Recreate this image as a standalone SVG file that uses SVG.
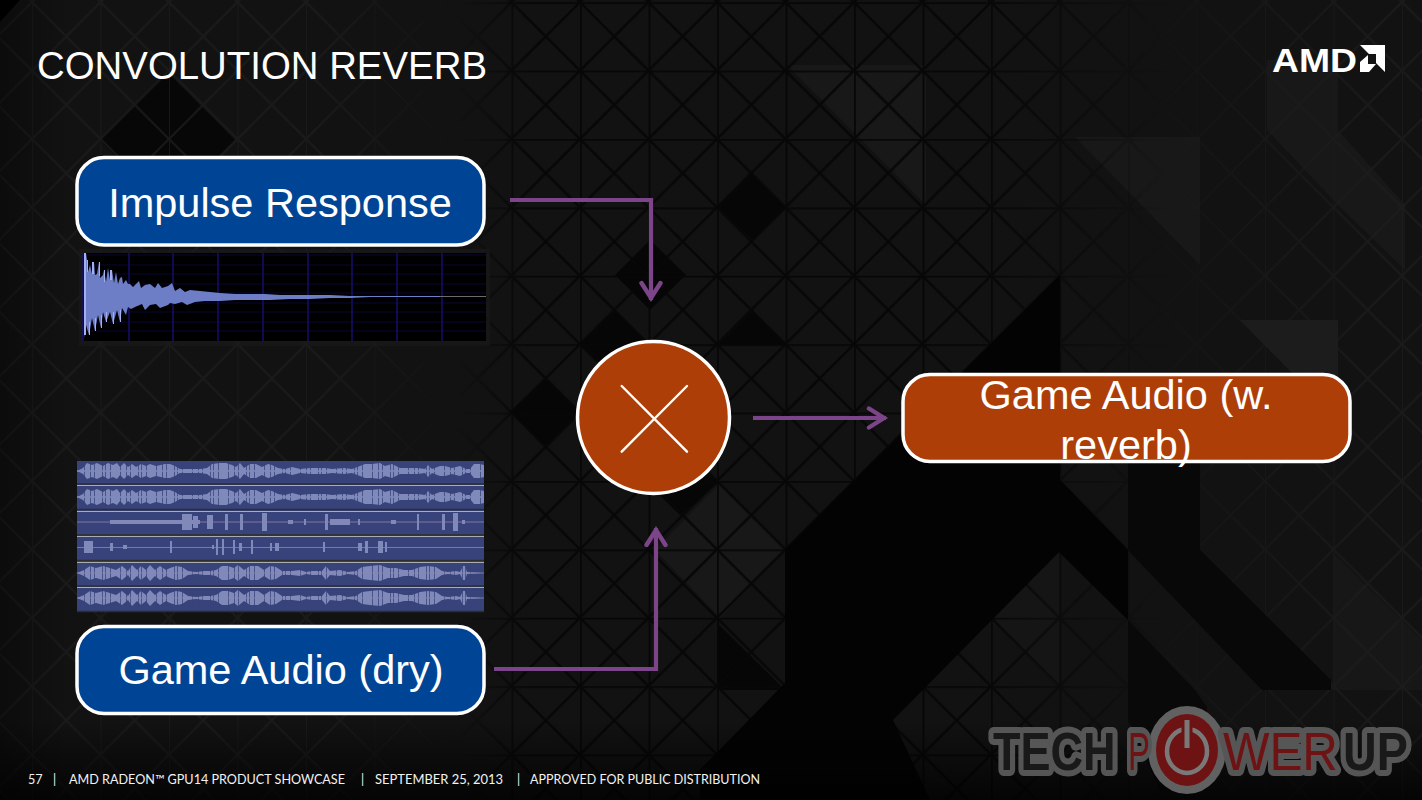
<svg xmlns="http://www.w3.org/2000/svg" xmlns:xlink="http://www.w3.org/1999/xlink" width="1422" height="800" viewBox="0 0 1422 800">
<style>
text{font-family:"Liberation Sans",Arial,sans-serif}
.box{stroke:#fff;stroke-width:3.5}
.blue{fill:#004595}
.orange{fill:#ae3e08}
.label{fill:#fff;font-size:41.500px;text-anchor:middle}
.conn{fill:none;stroke:#7d4589;stroke-width:4.200;marker-end:url(#chev)}
.foot{fill:#f2f2f2;font-family:Lato,"Open Sans",sans-serif;font-size:12.6px}
.dk{fill:#060606}
.lt{fill:#181818}
.wave{fill:#7f8aba}
.cut{fill:none;stroke:#37437a;stroke-width:20;opacity:.75}
.sep{stroke:#2f2f2f;stroke-width:1.6}
.sepl{stroke:#b8b8b8;stroke-width:.9}
.grid-v{stroke:#17106f;stroke-width:1.4}
.grid-h{stroke:#0b0840;stroke-width:.8}
.wm{stroke:#5a5a5a;stroke-width:12;stroke-linejoin:round;paint-order:stroke;font-size:53px}
</style>
<defs>
<marker id="chev" markerUnits="userSpaceOnUse" markerWidth="30" markerHeight="30" refX="20" refY="12" orient="auto">
<path d="M3 2.500L18 12L3 21.500" fill="none" stroke="#7d4589" stroke-width="4.400" stroke-linecap="round"/>
</marker>
<pattern id="cell" width="68.5" height="68.4" patternUnits="userSpaceOnUse" patternTransform="translate(580 139)">
<path d="M0 0V68.400M0 0H68.500" stroke-width="3.600" fill="none" stroke="#070707"/>
<path d="M0 0L68.500 68.400M68.500 0L0 68.400" stroke-width="2.400" fill="none" stroke="#070707"/>
</pattern>
<pattern id="cellLight" width="68.5" height="68.4" patternUnits="userSpaceOnUse" patternTransform="translate(580 139)">
<path d="M0 0V68.400" stroke-width="2" fill="none" stroke="#1d1d1d"/>
<path d="M0 0L68.500 68.400M68.500 0L0 68.400" stroke-width="2.200" fill="none" stroke="#1d1d1d"/>
</pattern>
<linearGradient id="midFade" gradientUnits="userSpaceOnUse" x1="0" y1="0" x2="1422" y2="0"><stop offset=".323" stop-color="#000"/><stop offset=".37" stop-color="#fff"/><stop offset=".69" stop-color="#fff"/><stop offset=".82" stop-color="#000"/></linearGradient>
<linearGradient id="sideFade" gradientUnits="userSpaceOnUse" x1="0" y1="0" x2="1422" y2="0"><stop offset="0" stop-color="#fff"/><stop offset=".22" stop-color="#fff"/><stop offset=".32" stop-color="#000"/><stop offset=".78" stop-color="#000"/><stop offset=".97" stop-color="#fff"/></linearGradient>
<mask id="midMask" maskUnits="userSpaceOnUse" x="0" y="0" width="1422" height="800"><rect width="1422" height="800" fill="url(#midFade)"/></mask>
<mask id="sideMask" maskUnits="userSpaceOnUse" x="0" y="0" width="1422" height="800"><rect width="1422" height="800" fill="url(#sideFade)"/></mask>
<linearGradient id="botFade" x1="0" y1="0" x2="0" y2="1"><stop offset="0" stop-color="#000" stop-opacity="0"/><stop offset="1" stop-color="#000" stop-opacity=".75"/></linearGradient>
<linearGradient id="leftFade"><stop offset="0" stop-color="#000" stop-opacity=".35"/><stop offset="1" stop-color="#000" stop-opacity="0"/></linearGradient>
<path id="w1" d="M77 0L83 3L87 8L92 6L97 8L103 5L108 8L113 6L117 8L120 4L124 8L128 4L132 7L136 4L141 7L146 5L150 7L156 5L165 7L170 7L175 5L180 2L190 2L200 2L207 3L212 7L220 8L226 8L232 6L236 4L240 8L244 3L250 7L256 7L262 4L268 7L272 6L278 3L285 2L292 4L300 2L310 3L325 3L332 2L344 3L352 2L360 5L365 7L372 7L380 8L385 5L392 7L400 3L410 3L418 3L425 2L428 6L432 2L440 5L445 5L452 3L460 5L466 2L470 2L474 7L480 7L484 6V0Z"/>
<path id="w5" d="M77 0L84 3L90 7L96 5L103 7L110 5L116 3L122 7L128 2L132 8L137 3L141 7L146 3L150 8L155 3L160 7L166 3L170 5L176 7L182 6L188 2L196 1L204 2L210 2L216 3L222 7L228 7L234 5L238 8L244 3L250 7L258 7L264 3L270 7L276 6L282 2L292 2L300 3L306 1L312 2L322 2L326 7L330 2L340 3L348 1L356 2L362 6L370 7L380 8L388 5L396 5L404 3L412 3L420 6L428 7L436 6L442 2L448 1L456 2L460 1L463 7L465 7L467 1L484 0Z"/>
<path id="sp3" d="M110 -2H200V2H110ZM182 -8H192V8H182ZM193 -6H198V6H193ZM207 -7H213V7H207ZM225 -8H228V8H225ZM240 -8H243V8H240ZM262 -9H267V9H262ZM288 -2H293V2H288ZM304 -3H306V3H304ZM325 -8H328V8H325ZM330 -3H350V3H330ZM358 -3H360V3H358ZM391 -2H396V2H391ZM417 -8H419V8H417ZM442 -8H445V8H442ZM453 -9H458V9H453ZM462 -2H465V2H462Z"/>
<path id="sp4" d="M84 -6H93V6H84ZM110 -4H113V4H110ZM123 -2H127V2H123ZM170 -6H172V6H170ZM212 -2H214V2H212ZM216 -8H218V8H216ZM222 -8H224V8H222ZM233 -7H235V7H233ZM239 -4H242V4H239ZM251 -7H253V7H251ZM270 -4H272V4H270ZM275 -4H279V4H275ZM323 -5H325V5H323ZM358 -4H362V4H358ZM365 -6H368V6H365ZM378 -6H383V6H378ZM385 -5H387V5H385Z"/>
</defs>

<g id="background">
<rect width="1422" height="800" fill="#121212"/>
<polygon class="lt" points="787,65 926,65 926,205"/>
<polygon class="lt" points="1075,137 1200,137 1200,265"/>
<polygon fill="#1c1c1c" points="1240,320 1338,320 1338,420"/>
<polygon class="lt" points="1267,60 1338,60 1338,130 1405,205 1405,270 1338,205 1267,130"/>
<polygon class="lt" points="720,483 785,550 720,618 655,550"/>
<polygon fill="#171717" points="1333,553 1422,640 1422,690 1333,690"/>
<polygon fill="#151515" points="1059,552 1059,688 990,620"/>
<polygon class="dk" points="752,173 786,207 752,240 718,207"/>
<polygon class="dk" points="752,311 786,345 718,345"/>
<polygon class="dk" points="615,310 650,345 615,378 580,345"/>
<polygon class="dk" points="545,378 580,412 545,446 510,412"/>
<polygon class="dk" points="647,483 680,450 718,483 680,515"/>
<polygon class="dk" points="650,240 686,275 650,310 615,275"/>
<polygon class="dk" points="717,623 785,690 717,690"/>
<polygon fill="#070707" points="167,72 235,140 167,208 99,140"/>
<g mask="url(#sideMask)" opacity=".8"><rect width="1422" height="800" fill="url(#cellLight)"/></g>
<g mask="url(#midMask)"><rect width="1422" height="800" fill="url(#cell)"/></g>
<polygon fill="#030303" points="1060,275 785,550 785,683 700,770 700,800 930,800 893,720 1059,552 1128,620 1128,550 1060,480"/>
<polygon fill="#080808" points="1128,463 1200,463 1200,550 1331,680 1331,690 1262,690 1128,550"/>
<polygon fill="#090909" points="1128,620 1195,690 1207,707 1207,790 1160,790 1128,720"/>
<polygon points="0,0 20,0 0,22" fill="#000"/>
<rect y="720" width="1422" height="80" fill="url(#botFade)"/>
<rect width="70" height="800" fill="url(#leftFade)"/>
</g>

<text id="title" x="37" y="79" fill="#fff" font-size="38" textLength="450" lengthAdjust="spacingAndGlyphs">CONVOLUTION REVERB</text>

<g id="amd-logo">
<text x="1272" y="72" fill="#fff" font-size="33" font-weight="700" textLength="85" lengthAdjust="spacingAndGlyphs">AMD</text>
<path fill="#fff" d="M1360 45H1385V72L1376 63V54H1369ZM1360 72V62L1368 55V64H1376L1369 72Z"/>
</g>

<g id="connectors">
<path class="conn" d="M510 200H651V300"/>
<path class="conn" d="M494 669H656V528"/>
<path class="conn" d="M753 418H886"/>
</g>

<g id="node-impulse-response">
<rect class="box blue" x="77" y="157.500" width="407" height="87.500" rx="27"/>
<text class="label" x="280" y="217">Impulse Response</text>
</g>

<g id="impulse-plot">
<rect x="79" y="249" width="411" height="97" fill="#1a1a1a" opacity=".6"/>
<rect x="83" y="253" width="403" height="88" fill="#000"/>
<path class="grid-h" d="M83 255H486M83 265H486M83 274H486M83 284H486M83 293H486M83 303H486M83 312H486M83 322H486M83 331H486"/>
<path class="grid-v" d="M83 253V341M129 253V341M173 253V341M218 253V341M263 253V341M308 253V341M352 253V341M397 253V341M442 253V341"/>
<path d="M440 296.500H486" stroke="#777" stroke-width=".9"/>
<path fill="#6d7dc6" d="M84 253L86 253L87 260L88 272L90 265L92 274L94 262L95 275L97 274L99 262L100 278L103 275L104 270L106 282L108 268L110 280L112 270L114 283L116 272L118 284L120 278L122 277L123 284L126 280L128 284L130 284L133 287L136 284L139 281L141 288L145 285L150 284L155 288L158 283L162 288L168 286L172 283L175 291L180 288L185 292L190 290L200 291L210 292L220 293L235 294L250 294L265 294L280 295L295 295L310 295L330 295L350 296L370 296L400 296L440 296V297L400 297L370 297L350 298L330 298L310 299L290 299L270 300L250 300L235 300L220 301L205 301L195 302L187 305L182 302L175 304L170 303L168 305L160 308L156 304L150 305L145 310L142 304L135 307L131 309L128 307L126 315L122 308L120 322L117 310L113 324L110 312L106 322L103 312L101 328L98 315L95 331L92 318L89 335L86 325L84 338Z"/>
<path fill="#a2b0f2" d="M84 253H86V335H84ZM87 260H88V272H87ZM92 262H94V274H92ZM99 262H100V276H99ZM104 270H105V282H104ZM110 270H112V280H110ZM89 322H90V335H89ZM95 318H96V331H95ZM101 315H102V328H101ZM106 312H107V322H106ZM113 312H114V324H113ZM120 310H121V322H120Z"/>
</g>

<g id="waveform-strip">
<rect x="77" y="461" width="407" height="151" fill="#37437a"/>
<g class="wave">
<g transform="translate(0 471)"><use href="#w1"/><use href="#w1" transform="scale(1 -1)"/></g>
<g transform="translate(0 497)"><use href="#w1"/><use href="#w1" transform="scale(1 -1)"/></g>
<g transform="translate(0 522)"><use href="#sp3"/></g>
<g transform="translate(0 547)"><use href="#sp4"/></g>
<g transform="translate(0 573)"><use href="#w5"/><use href="#w5" transform="scale(1 -1)"/></g>
<g transform="translate(0 598)"><use href="#w5"/><use href="#w5" transform="scale(1 -1)"/></g>
</g>
<path class="cut" stroke-dasharray="1 5 1 3 1 7 1 2 1 4 1 9" d="M84 471H484M84 497H484M84 573H484M84 598H484"/>
<path d="M77 471H484M77 497H484" stroke="#7f8aba" stroke-width="1.600"/>
<path d="M77 522H484M77 547.500H484M77 573H484M77 598H484" stroke="#8f86ac" stroke-width=".8"/>
<path class="sep" d="M77 484H484M77 509.500H484M77 535H484M77 560.500H484M77 586H484M77 611.500H484"/>
<path class="sepl" d="M77 485.500H484M77 511.500H484M77 536.500H484M77 562.500H484M77 587.500H484"/>
</g>

<g id="node-multiply">
<circle class="box orange" cx="653.500" cy="417.500" r="76"/>
<path d="M621.700 386L687 451.700M687 386L621.700 451.700" stroke="#fff" stroke-width="2.400" stroke-linecap="round" fill="none"/>
</g>

<g id="node-game-audio-dry">
<rect class="box blue" x="77" y="626.500" width="407" height="87" rx="27"/>
<text class="label" x="281" y="684">Game Audio (dry)</text>
</g>

<g id="node-game-audio-reverb">
<rect class="box orange" x="903" y="374.500" width="447" height="87" rx="27"/>
<text class="label" x="1126" y="409">Game Audio (w.</text>
<text class="label" x="1126" y="459">reverb)</text>
</g>

<g id="footer">
<text class="foot" x="28" y="784">57</text>
<text class="foot" x="53" y="784">|</text>
<text class="foot" x="69" y="784" textLength="276" lengthAdjust="spacingAndGlyphs">AMD RADEON™ GPU14 PRODUCT SHOWCASE</text>
<text class="foot" x="361" y="784">|</text>
<text class="foot" x="375" y="784" textLength="128" lengthAdjust="spacingAndGlyphs">SEPTEMBER 25, 2013</text>
<text class="foot" x="517" y="784">|</text>
<text class="foot" x="530" y="784" textLength="230" lengthAdjust="spacingAndGlyphs">APPROVED FOR PUBLIC DISTRIBUTION</text>
</g>

<g id="watermark" opacity=".95">
<ellipse cx="1187" cy="750" rx="39" ry="44" fill="#666"/>
<ellipse cx="1187" cy="750" rx="31" ry="36" fill="#741414"/>
<ellipse cx="1187" cy="751" rx="20" ry="22" fill="none" stroke="#808080" stroke-width="4.500"/>
<path d="M1187 720V748" stroke="#741414" stroke-width="11"/>
<path d="M1187 720V748" stroke="#808080" stroke-width="5"/>
<text class="wm" transform="translate(993 770) scale(.85 1)" fill="#1a1a1a" font-weight="700">TECH</text>
<text class="wm" transform="translate(1128 770) scale(.62 1)" fill="#741414">P</text>
<text class="wm" transform="translate(1223 770) scale(.93 1)" fill="#741414">WER</text>
<text class="wm" transform="translate(1343 770) scale(.88 1)" fill="#1a1a1a" font-weight="700">UP</text>
</g>
</svg>
